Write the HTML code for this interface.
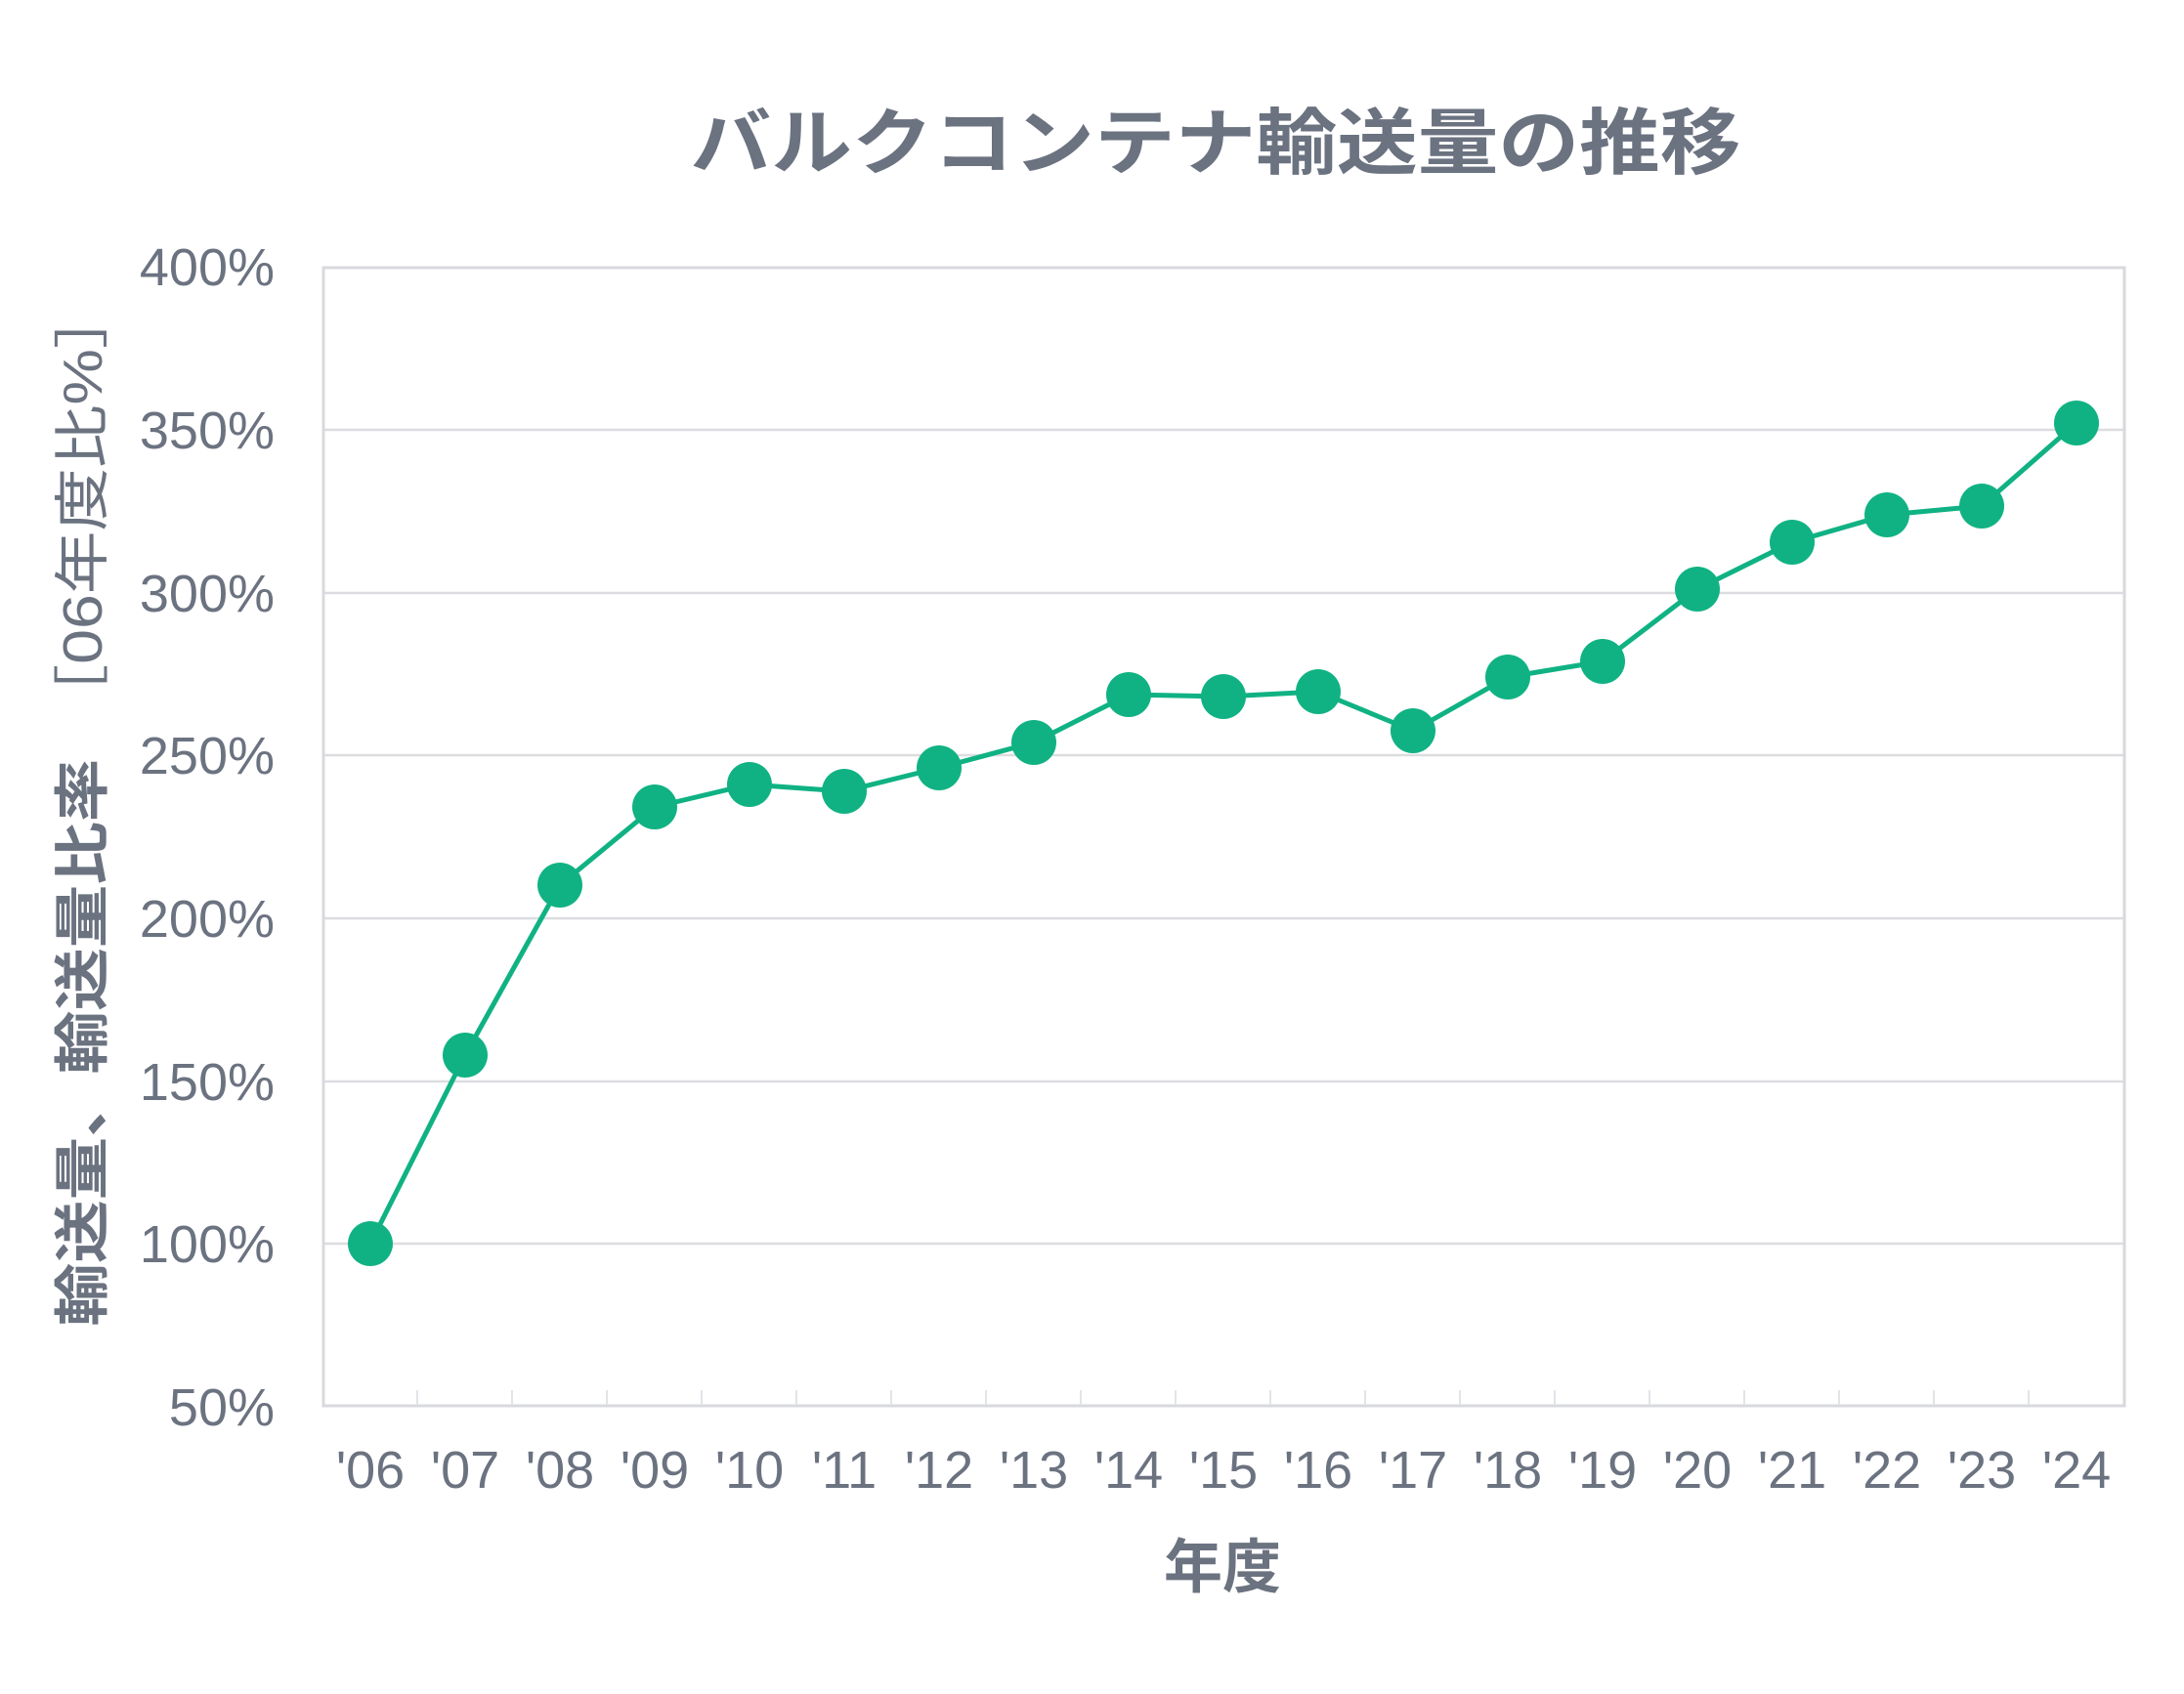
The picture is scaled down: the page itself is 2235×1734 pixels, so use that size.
<!DOCTYPE html>
<html><head><meta charset="utf-8"><style>
html,body{margin:0;padding:0;background:#fff;}
svg{display:block;}
text{fill:#6b7280;}
</style></head><body>
<svg width="2235" height="1734" viewBox="0 0 2235 1734" xmlns="http://www.w3.org/2000/svg">
<rect width="2235" height="1734" fill="#fff"/>
<text x="1244" y="172" text-anchor="middle" font-family="'Liberation Sans','Noto Sans CJK JP',sans-serif" font-weight="bold" font-size="74" textLength="1075" lengthAdjust="spacingAndGlyphs">バルクコンテナ輸送量の推移</text>
<g stroke="#dcdde0" stroke-width="2.5">
<line x1="330" y1="440" x2="2174" y2="440"/>
<line x1="330" y1="607" x2="2174" y2="607"/>
<line x1="330" y1="773" x2="2174" y2="773"/>
<line x1="330" y1="940" x2="2174" y2="940"/>
<line x1="330" y1="1107" x2="2174" y2="1107"/>
<line x1="330" y1="1273" x2="2174" y2="1273"/>
</g>
<rect x="331" y="274" width="1843" height="1165" fill="none" stroke="#d8d9dc" stroke-width="3"/>
<g stroke="#e2e4e8" stroke-width="2">
<line x1="427" y1="1423" x2="427" y2="1438"/><line x1="524" y1="1423" x2="524" y2="1438"/><line x1="621" y1="1423" x2="621" y2="1438"/><line x1="718" y1="1423" x2="718" y2="1438"/><line x1="815" y1="1423" x2="815" y2="1438"/><line x1="912" y1="1423" x2="912" y2="1438"/><line x1="1009" y1="1423" x2="1009" y2="1438"/><line x1="1106" y1="1423" x2="1106" y2="1438"/><line x1="1203" y1="1423" x2="1203" y2="1438"/><line x1="1300" y1="1423" x2="1300" y2="1438"/><line x1="1397" y1="1423" x2="1397" y2="1438"/><line x1="1494" y1="1423" x2="1494" y2="1438"/><line x1="1591" y1="1423" x2="1591" y2="1438"/><line x1="1688" y1="1423" x2="1688" y2="1438"/><line x1="1785" y1="1423" x2="1785" y2="1438"/><line x1="1882" y1="1423" x2="1882" y2="1438"/><line x1="1979" y1="1423" x2="1979" y2="1438"/><line x1="2076" y1="1423" x2="2076" y2="1438"/>
</g>
<g font-family="'Liberation Sans',sans-serif" font-size="54" text-anchor="end">
<text x="281" y="292">400%</text>
<text x="281" y="459">350%</text>
<text x="281" y="626">300%</text>
<text x="281" y="792">250%</text>
<text x="281" y="959">200%</text>
<text x="281" y="1126">150%</text>
<text x="281" y="1292">100%</text>
<text x="281" y="1459">50%</text>
</g>
<g font-family="'Liberation Sans',sans-serif" font-size="54" text-anchor="middle">
<text x="379" y="1523">'06</text><text x="476" y="1523">'07</text><text x="573" y="1523">'08</text><text x="670" y="1523">'09</text><text x="767" y="1523">'10</text><text x="864" y="1523">'11</text><text x="961" y="1523">'12</text><text x="1058" y="1523">'13</text><text x="1155" y="1523">'14</text><text x="1252" y="1523">'15</text><text x="1349" y="1523">'16</text><text x="1446" y="1523">'17</text><text x="1543" y="1523">'18</text><text x="1640" y="1523">'19</text><text x="1737" y="1523">'20</text><text x="1834" y="1523">'21</text><text x="1931" y="1523">'22</text><text x="2028" y="1523">'23</text><text x="2125" y="1523">'24</text>
</g>
<text x="1251" y="1625" text-anchor="middle" font-family="'Liberation Sans','Noto Sans CJK JP',sans-serif" font-weight="bold" font-size="60">年度</text>
<text transform="translate(104,825) rotate(-90)" text-anchor="middle" font-family="'Liberation Sans','Noto Sans CJK JP',sans-serif" font-size="57" textLength="1065" lengthAdjust="spacingAndGlyphs"><tspan font-weight="bold">輸送量、輸送量比率　</tspan><tspan>［06年度比%］</tspan></text>
<polyline fill="none" stroke="#10b283" stroke-width="5" stroke-linejoin="round" points="379,1273 476,1080 573,906 670,826 767,803 864,810 961,786 1058,760 1155,711 1252,713 1349,708 1446,748 1543,693 1640,677 1737,603 1834,555 1931,527 2028,518 2125,433"/>
<g fill="#10b283">
<circle cx="379" cy="1273" r="23"/><circle cx="476" cy="1080" r="23"/><circle cx="573" cy="906" r="23"/><circle cx="670" cy="826" r="23"/><circle cx="767" cy="803" r="23"/><circle cx="864" cy="810" r="23"/><circle cx="961" cy="786" r="23"/><circle cx="1058" cy="760" r="23"/><circle cx="1155" cy="711" r="23"/><circle cx="1252" cy="713" r="23"/><circle cx="1349" cy="708" r="23"/><circle cx="1446" cy="748" r="23"/><circle cx="1543" cy="693" r="23"/><circle cx="1640" cy="677" r="23"/><circle cx="1737" cy="603" r="23"/><circle cx="1834" cy="555" r="23"/><circle cx="1931" cy="527" r="23"/><circle cx="2028" cy="518" r="23"/><circle cx="2125" cy="433" r="23"/>
</g>
</svg>
</body></html>
